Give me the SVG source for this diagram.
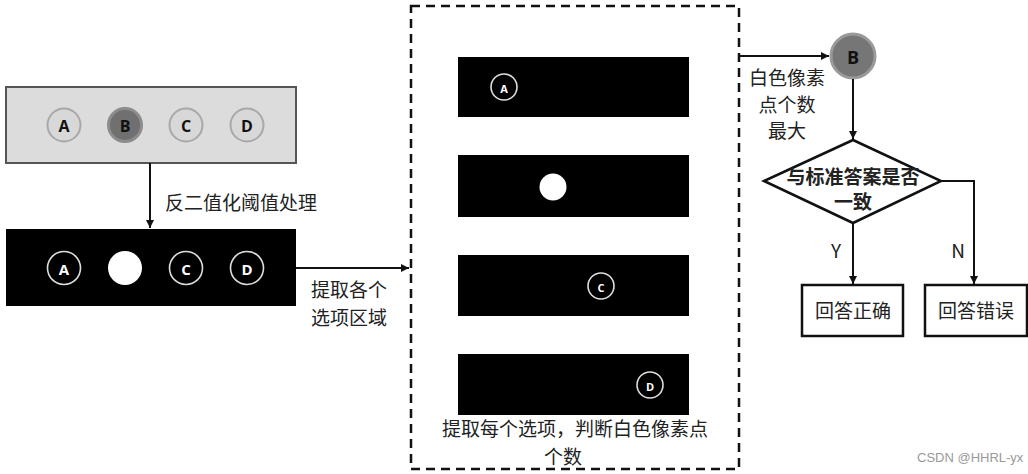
<svg xmlns="http://www.w3.org/2000/svg" width="1028" height="474" viewBox="0 0 1028 474">
<style>
.cjk{font-family:"Noto Sans CJK SC","Noto Sans",sans-serif;font-size:19px;fill:#222}
.lt{font-family:"Open Sans","Liberation Sans",sans-serif;font-weight:bold;text-anchor:middle;dominant-baseline:central}
.line{stroke:#111;stroke-width:2;fill:none}
.wc{fill:none;stroke:#ddd;stroke-width:1.6}
.gc{fill:#d8d8d8;stroke:#a8a8a8;stroke-width:2}
</style>
<defs>
<marker id="ah" markerWidth="10" markerHeight="10" refX="8" refY="5" orient="auto" markerUnits="userSpaceOnUse">
<path d="M0,1 L8,5 L0,9 Z" fill="#111"/>
</marker>
<filter id="blur" x="-30%" y="-30%" width="160%" height="160%"><feGaussianBlur stdDeviation="0.7"/></filter>
</defs>
<rect width="1028" height="474" fill="#fff"/>

<g id="original">
<rect x="6" y="87" width="290" height="76" fill="#dcdcdc" stroke="#555" stroke-width="2"/>
<circle class="gc" cx="64" cy="125" r="16.5"/>
<text class="lt" x="64" y="126" font-size="16" fill="#111">A</text>
<circle cx="125" cy="125" r="16.5" fill="#707070" stroke="#8c8c8c" stroke-width="3" filter="url(#blur)"/>
<text class="lt" x="125" y="126" font-size="16" fill="#111">B</text>
<circle class="gc" cx="186" cy="125" r="16.5"/>
<text class="lt" x="186" y="126" font-size="16" fill="#111">C</text>
<circle class="gc" cx="247" cy="125" r="16.5"/>
<text class="lt" x="247" y="126" font-size="16" fill="#111">D</text>
</g>

<g id="binary">
<rect x="6" y="229" width="290" height="77" fill="#000"/>
<circle class="wc" cx="64" cy="268" r="16.5"/>
<text class="lt" x="64" y="269" font-size="15" fill="#fff">A</text>
<circle cx="125" cy="268" r="17" fill="#fff"/>
<circle class="wc" cx="186" cy="268" r="16.5"/>
<text class="lt" x="186" y="269" font-size="15" fill="#fff">C</text>
<circle class="wc" cx="247" cy="268" r="16.5"/>
<text class="lt" x="247" y="269" font-size="15" fill="#fff">D</text>
</g>

<g id="extract">
<rect x="411" y="6" width="328" height="463" fill="none" stroke="#111" stroke-width="2.5" stroke-dasharray="9,6"/>
<rect x="458" y="57" width="231" height="60" fill="#000"/>
<circle class="wc" cx="504" cy="87" r="13"/>
<text class="lt" x="504" y="88" font-size="11" fill="#fff">A</text>
<rect x="458" y="155" width="231" height="62" fill="#000"/>
<circle cx="553" cy="187" r="13.5" fill="#fff"/>
<rect x="458" y="255" width="231" height="61" fill="#000"/>
<circle class="wc" cx="601" cy="286" r="13"/>
<text class="lt" x="601" y="287" font-size="11" fill="#fff">C</text>
<rect x="458" y="354" width="231" height="61" fill="#000"/>
<circle class="wc" cx="650" cy="385" r="13"/>
<text class="lt" x="650" y="386" font-size="11" fill="#fff">D</text>
<text class="cjk" text-anchor="middle"><tspan x="575" y="436">提取每个选项，判断白色像素点</tspan><tspan x="563" y="464">个数</tspan></text>
</g>

<g id="result">
<circle cx="853" cy="56" r="22" fill="#767676" stroke="#9a9a9a" stroke-width="3" filter="url(#blur)"/>
<text class="lt" x="853" y="57" font-size="18" fill="#111">B</text>
</g>

<g id="decision">
<polygon points="853,140 941,181 853,223 764,181" fill="#fff" stroke="#111" stroke-width="2.5"/>
<text class="cjk" text-anchor="middle" font-weight="bold" font-size="17"><tspan x="853" y="184">与标准答案是否</tspan><tspan x="853" y="209">一致</tspan></text>
</g>

<g id="correct">
<rect x="802" y="285" width="101" height="51" fill="#fff" stroke="#111" stroke-width="2.5"/>
<text class="cjk" x="853" y="318" text-anchor="middle">回答正确</text>
</g>

<g id="wrong">
<rect x="925" y="285" width="102" height="51" fill="#fff" stroke="#111" stroke-width="2.5"/>
<text class="cjk" x="976" y="318" text-anchor="middle">回答错误</text>
</g>

<g id="connectors">
<line class="line" x1="150" y1="163" x2="150" y2="228" marker-end="url(#ah)"/>
<line class="line" x1="296" y1="268" x2="409" y2="268" marker-end="url(#ah)"/>
<line class="line" x1="739" y1="56" x2="829" y2="56" marker-end="url(#ah)"/>
<line class="line" x1="853" y1="79" x2="853" y2="139" marker-end="url(#ah)"/>
<line class="line" x1="853" y1="223" x2="853" y2="284" marker-end="url(#ah)"/>
<polyline class="line" points="941,181 974,181 974,284" marker-end="url(#ah)"/>
</g>

<g id="labels">
<text class="cjk" x="165" y="210">反二值化阈值处理</text>
<text class="cjk"><tspan x="311" y="297">提取各个</tspan><tspan x="311" y="325">选项区域</tspan></text>
<text class="cjk" text-anchor="middle" font-size="18"><tspan x="787" y="85">白色像素</tspan><tspan x="787" y="111.5">点个数</tspan><tspan x="787" y="138">最大</tspan></text>
<text class="cjk" x="836" y="258" text-anchor="middle">Y</text>
<text class="cjk" x="958" y="258" text-anchor="middle">N</text>
<text x="917" y="462" font-family="Liberation Sans,sans-serif" font-size="13" fill="#999">CSDN @HHRL-yx</text>
</g>
</svg>
